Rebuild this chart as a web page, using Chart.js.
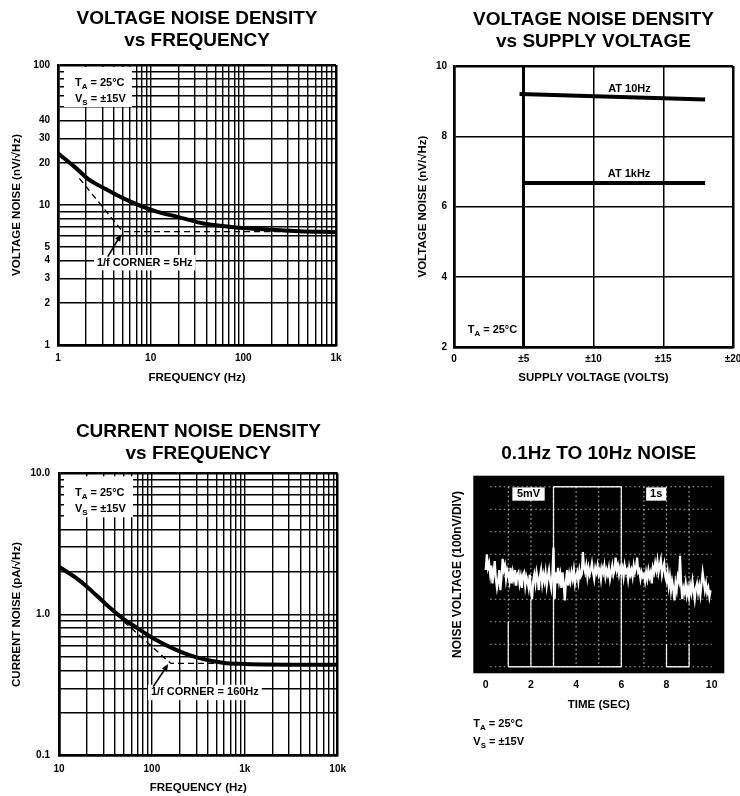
<!DOCTYPE html>
<html><head><meta charset="utf-8">
<script src="https://cdn.jsdelivr.net/npm/chart.js@4.4.0/dist/chart.umd.min.js"></script>
<style>
html,body{margin:0;padding:0;background:#fff;overflow:hidden;}
#wrap{position:relative;width:740px;height:796px;overflow:hidden;background:#fff;}
canvas{position:absolute;}
</style></head><body>
<div id="wrap">
<canvas id="c1" width="370" height="400" style="left:0;top:0"></canvas>
<canvas id="c2" width="380" height="400" style="left:370px;top:0"></canvas>
<canvas id="c3" width="370" height="396" style="left:0;top:400px"></canvas>
<canvas id="c4" width="370" height="396" style="left:370px;top:400px"></canvas>
</div>
<script>
const FONT = '"Liberation Sans", Arial, Helvetica, sans-serif';
Chart.defaults.font.family = FONT;
Chart.defaults.font.weight = 'bold';
Chart.defaults.color = '#000';
Chart.defaults.animation = false;

// ---------- Voltage noise density vs frequency ----------
const vnFreq  = [1, 1.5, 2.18, 3, 5, 11.4, 20, 36, 70, 164, 400, 1000];
const vnNoise = [23.4, 18.8, 15.1, 13.4, 11.2, 9.0, 8.2, 7.4, 7.0, 6.7, 6.5, 6.4];
const vnAsymFreq  = [1.7, 5, 1000];
const vnAsymNoise = [15.5, 6.45, 6.45];
const vnXLabelVals = [1, 10, 100, 1000];
const vnXLabels    = ['1', '10', '100', '1k'];
const vnYLabelVals = [1, 2, 3, 4, 5, 10, 20, 30, 40, 100];
const vnYLabels    = ['1', '2', '3', '4', '5', '10', '20', '30', '40', '100'];

// ---------- Voltage noise density vs supply voltage ----------
const supply10HzVolts = [4.7, 18];
const supply10HzNoise = [9.2, 9.05];
const supply1kHzVolts = [5, 18];
const supply1kHzNoise = [6.67, 6.67];
const supplyXTickVals = [0, 5, 10, 15, 20];
const supplyXTickLabels = ['0', '±5', '±10', '±15', '±20'];
const supplyYTickVals = [2, 4, 6, 8, 10];

// ---------- Current noise density vs frequency ----------
const inFreq  = [10, 15, 21, 30, 48.5, 70, 111, 253, 578, 1000, 10000];
const inNoise = [2.18, 1.83, 1.53, 1.23, 0.94, 0.80, 0.66, 0.516, 0.456, 0.447, 0.44];
const inAsymFreq  = [50, 160, 1000];
const inAsymNoise = [0.89, 0.45, 0.45];
const inXLabelVals = [10, 100, 1000, 10000];
const inXLabels    = ['10', '100', '1k', '10k'];
const inYLabelVals = [0.1, 1, 10];
const inYLabels    = ['0.1', '1.0', '10.0'];

// ---------- 0.1Hz to 10Hz noise (divisions, sampled every 0.05 s) ----------
const scopeStep = 0.05;
const scopeNoise = [
  0.3, 1.0, 0.4, 0.6, 0.1, 0.5, -0.3, 0.2, 0.7, -0.1, -0.5, -0.2, 0.3, -0.6, 0.0, 0.8, 0.3, 0.5, -0.1, 0.3,
  0.1, -0.2, 0.4, -0.3, 0.2, -0.1, 0.3, -0.4, 0.1, 0.2, -0.3, 0.0, -0.5, 0.1, 0.2, -0.4, 0.0, -0.2, -0.5, 0.1,
  -0.6, -1.0, -0.2, 0.1, -0.3, 0.2, -0.1, -0.6, 0.0, 0.3, -0.3, 0.1, -0.2, 0.2, -0.4, 0.0, 0.3, -0.2, -0.5, 0.1,
  1.3, -1.0, 0.2, -0.3, 0.4, -0.2, 0.1, -0.5, 0.2, -0.3, -1.05, -0.2, 0.3, -0.4, 0.1, -0.2, 0.2, -0.1, 0.3, -0.3,
  0.0, 0.2, -0.2, 0.3, 0.0, 0.1, 1.1, 0.4, 0.2, 0.5, 0.0, 0.4, 0.1, 0.3, 0.6, 0.2, -0.1, 0.4, 0.2, 0.5,
  0.1, 0.3, -0.1, 0.4, 0.2, 0.5, 0.0, 0.3, 0.1, 0.4, -0.1, 0.2, 0.5, 0.1, 0.3, 0.85, 0.3, 0.5, 0.1, 0.4,
  0.2, 0.4, 0.0, 0.5, 0.2, 0.3, -0.1, 0.4, 0.1, 0.3, 0.0, 0.5, 0.2, 0.4, 0.85, 0.2, 0.3, -0.1, 0.2, 0.0,
  0.1, -0.2, 0.2, -0.1, 0.3, 0.0, 0.2, -0.3, 0.4, 0.2, 0.6, 0.3, 0.7, 0.2, 0.5, 0.75, 0.1, 0.4, 0.6, 0.0,
  -0.2, 0.2, -0.4, 0.0, -0.6, -0.2, -0.5, -1.05, -0.3, -0.6, 0.0, -0.2, 0.93, -0.4, -1.0, -0.5, -0.7, -0.3, -0.8, -0.5,
  -0.9, -0.4, -0.7, -0.2, -0.6, -1.0, -0.5, -0.3, -0.7, -0.4, -0.8, -0.3, 0.2, -0.2, -0.6, -0.3, -0.7, -0.5, -0.9, -0.6
];
const scopeTickVals = [0, 2, 4, 6, 8, 10];
// scope screen graticule decoration (in seconds / divisions)
const scopeSolidSegments = [[3,4,3,-4],[6,4,6,-4],[3,4,6,4],[1,-4,6,-4],[1,-2,1,-4],[2,-1,2,-4],[8,-3,8,-4],[9,-3,9,-4],[8,-4,9,-4]];

// ---------- helpers ----------
function decadeGrid(lo, hi) {
  const out = [];
  for (let d = lo; d < hi * 0.999; d *= 10) {
    for (let k = 1; k < 10; k++) out.push(+(k * d).toPrecision(6));
  }
  out.push(hi);
  return out;
}
function labelFor(v, vals, labels) {
  for (let i = 0; i < vals.length; i++) if (Math.abs(v - vals[i]) <= Math.abs(vals[i]) * 1e-6 + 1e-9) return labels[i];
  return '';
}
function pts(xs, ys) { return xs.map((x, i) => ({x, y: ys[i]})); }
function near(a, b) { return Math.abs(a - b) <= Math.abs(b) * 1e-6 + 1e-9; }

function logAxis(pos, min, max, labelVals, labels, title, axisSize, tickPad) {
  const horiz = pos === 'bottom';
  const gridVals = decadeGrid(min, max);
  return {
    type: 'logarithmic', position: pos, min, max,
    afterBuildTicks: s => { s.ticks = gridVals.map(v => ({value: v})); },
    afterFit: s => { if (horiz) s.height = axisSize; else s.width = axisSize; },
    ticks: { autoSkip: false, maxRotation: 0, padding: tickPad, font: {size: 10, weight: 'bold'}, color: '#000',
      callback: v => labelFor(v, labelVals, labels) },
    grid: { color: '#000', drawTicks: false,
      lineWidth: c => (c.tick && (near(c.tick.value, min) || near(c.tick.value, max))) ? 2.5 : 1.4 },
    border: { display: true, color: '#000', width: 2.5 },
    title: { display: true, text: title, font: {size: 11.5, weight: 'bold'}, padding: 0, color: '#000' }
  };
}
function titleOpt(lines, padTop, padBottom) {
  return { display: true, fullSize: false, text: lines, color: '#000',
    font: {size: 19, weight: 'bold', lineHeight: '22px'}, padding: {top: padTop, bottom: padBottom} };
}
function drawSub(ctx, x, y, parts, size) {
  let cx = x;
  ctx.textAlign = 'left'; ctx.textBaseline = 'middle'; ctx.fillStyle = '#000';
  for (const [t, sub] of parts) {
    ctx.font = `bold ${sub ? size * 0.72 : size}px ${FONT}`;
    ctx.fillText(t, cx, sub ? y + size * 0.32 : y);
    cx += ctx.measureText(t).width;
  }
}
function arrow(ctx, x0, y0, x1, y1) {
  ctx.save();
  ctx.strokeStyle = '#000'; ctx.fillStyle = '#000'; ctx.lineWidth = 1.6;
  const a = Math.atan2(y1 - y0, x1 - x0), L = 7, W = 3;
  ctx.beginPath(); ctx.moveTo(x0, y0); ctx.lineTo(x1 - L * 0.6 * Math.cos(a), y1 - L * 0.6 * Math.sin(a)); ctx.stroke();
  ctx.beginPath(); ctx.moveTo(x1, y1);
  ctx.lineTo(x1 - L * Math.cos(a) + W * Math.sin(a), y1 - L * Math.sin(a) - W * Math.cos(a));
  ctx.lineTo(x1 - L * Math.cos(a) - W * Math.sin(a), y1 - L * Math.sin(a) + W * Math.cos(a));
  ctx.closePath(); ctx.fill();
  ctx.restore();
}
function boxedLabel(ctx, text, cx, cy, size) {
  ctx.save();
  ctx.font = `bold ${size}px ${FONT}`;
  const w = ctx.measureText(text).width;
  ctx.fillStyle = '#fff';
  ctx.fillRect(cx - w / 2 - 3, cy - size * 0.7, w + 6, size * 1.4);
  ctx.fillStyle = '#000'; ctx.textAlign = 'center'; ctx.textBaseline = 'middle';
  ctx.fillText(text, cx, cy);
  ctx.restore();
}
const curveStyle = { borderColor: '#000', borderWidth: 4, pointRadius: 0, cubicInterpolationMode: 'monotone', fill: false };
const dashStyle  = { borderColor: '#000', borderWidth: 1.3, borderDash: [6, 4], pointRadius: 0, tension: 0, fill: false };
const basePlugins = { legend: {display: false}, tooltip: {enabled: false} };

// ---------- Chart 1 ----------
new Chart(document.getElementById('c1'), {
  type: 'line',
  data: { datasets: [
    Object.assign({ data: pts(vnFreq, vnNoise) }, curveStyle),
    Object.assign({ data: pts(vnAsymFreq, vnAsymNoise) }, dashStyle)
  ]},
  options: {
    responsive: false, animation: false,
    layout: { padding: {left: 10, right: 34, top: 0, bottom: 15} },
    plugins: Object.assign({ title: titleOpt(['VOLTAGE NOISE DENSITY', 'vs FREQUENCY'], 7.7, 13.3) }, basePlugins),
    scales: {
      x: logAxis('bottom', 1, 1000, vnXLabelVals, vnXLabels, 'FREQUENCY (Hz)', 40, 7.3),
      y: logAxis('left', 1, 100, vnYLabelVals, vnYLabels, 'VOLTAGE NOISE (nV/√Hz)', 48, 8)
    }
  },
  plugins: [{
    id: 'ann1',
    beforeDatasetsDraw(chart) {
      const {ctx, chartArea: a} = chart;
      ctx.save();
      ctx.fillStyle = '#fff'; ctx.fillRect(a.left + 6, a.top + 2, 68, 40);
      drawSub(ctx, a.left + 17, a.top + 18, [['T', 0], ['A', 1], [' = 25°C', 0]], 11);
      drawSub(ctx, a.left + 17, a.top + 34, [['V', 0], ['S', 1], [' = ±15V', 0]], 11);
      ctx.restore();
    },
    afterDatasetsDraw(chart) {
      const {ctx, scales: {x, y}} = chart;
      const cx = x.getPixelForValue(vnAsymFreq[1]), cy = y.getPixelForValue(vnAsymNoise[1]);
      boxedLabel(ctx, '1/f CORNER = 5Hz', cx + 22, cy + 31, 11);
      arrow(ctx, cx - 15, cy + 25, cx - 1.5, cy + 2.5);
    }
  }]
});

// ---------- Chart 2 ----------
new Chart(document.getElementById('c2'), {
  type: 'line',
  data: { datasets: [
    { data: pts(supply10HzVolts, supply10HzNoise), borderColor: '#000', borderWidth: 4, pointRadius: 0, tension: 0 },
    { data: pts(supply1kHzVolts, supply1kHzNoise), borderColor: '#000', borderWidth: 4, pointRadius: 0, tension: 0 }
  ]},
  options: {
    responsive: false, animation: false,
    layout: { padding: {left: 46, right: 17, top: 0, bottom: 15} },
    plugins: Object.assign({ title: titleOpt(['VOLTAGE NOISE DENSITY', 'vs SUPPLY VOLTAGE'], 9, 13) }, basePlugins),
    scales: {
      x: { type: 'linear', position: 'bottom', min: 0, max: 20,
        afterBuildTicks: s => { s.ticks = supplyXTickVals.map(v => ({value: v})); },
        afterFit: s => { s.height = 37.9; },
        ticks: { autoSkip: false, maxRotation: 0, padding: 6.3, font: {size: 10, weight: 'bold'}, color: '#000',
          callback: v => labelFor(v, supplyXTickVals, supplyXTickLabels) },
        grid: { color: '#000', drawTicks: false,
          lineWidth: c => c.tick ? (c.tick.value === 5 ? 3 : (c.tick.value === 0 || c.tick.value === 20 ? 2.5 : 1.5)) : 1.5 },
        border: { display: true, color: '#000', width: 2.5 },
        title: { display: true, text: 'SUPPLY VOLTAGE (VOLTS)', font: {size: 11.5, weight: 'bold'}, padding: 0, color: '#000' }
      },
      y: { type: 'linear', position: 'left', min: 2, max: 10,
        afterBuildTicks: s => { s.ticks = supplyYTickVals.map(v => ({value: v})); },
        afterFit: s => { s.width = 38; },
        ticks: { padding: 7, font: {size: 10, weight: 'bold'}, color: '#000' },
        grid: { color: '#000', drawTicks: false,
          lineWidth: c => c.tick && (c.tick.value === 10 || c.tick.value === 2) ? 2.5 : 1.5 },
        border: { display: true, color: '#000', width: 2.5 },
        title: { display: true, text: 'VOLTAGE NOISE (nV/√Hz)', font: {size: 11.5, weight: 'bold'}, padding: 0, color: '#000' }
      }
    }
  },
  plugins: [{
    id: 'ann2',
    afterDatasetsDraw(chart) {
      const {ctx, scales: {x, y}} = chart;
      ctx.save();
      ctx.font = `bold 11px ${FONT}`; ctx.fillStyle = '#000'; ctx.textAlign = 'center'; ctx.textBaseline = 'middle';
      ctx.fillText('AT 10Hz', x.getPixelForValue(12.58), y.getPixelForValue(9.36));
      ctx.fillText('AT 1kHz', x.getPixelForValue(12.55), y.getPixelForValue(6.94));
      drawSub(ctx, x.getPixelForValue(0.98), y.getPixelForValue(2.48), [['T', 0], ['A', 1], [' = 25°C', 0]], 11);
      ctx.restore();
    }
  }]
});

// ---------- Chart 3 ----------
new Chart(document.getElementById('c3'), {
  type: 'line',
  data: { datasets: [
    Object.assign({ data: pts(inFreq, inNoise) }, curveStyle),
    Object.assign({ data: pts(inAsymFreq, inAsymNoise) }, dashStyle)
  ]},
  options: {
    responsive: false, animation: false,
    layout: { padding: {left: 10.4, right: 32.3, top: 0, bottom: 0.8} },
    plugins: Object.assign({ title: titleOpt(['CURRENT NOISE DENSITY', 'vs FREQUENCY'], 20.7, 8.6) }, basePlugins),
    scales: {
      x: logAxis('bottom', 10, 10000, inXLabelVals, inXLabels, 'FREQUENCY (Hz)', 39.5, 7.6),
      y: logAxis('left', 0.1, 10, inYLabelVals, inYLabels, 'CURRENT NOISE (pA/√Hz)', 48.6, 9)
    }
  },
  plugins: [{
    id: 'ann3',
    beforeDatasetsDraw(chart) {
      const {ctx, chartArea: a} = chart;
      ctx.save();
      ctx.fillStyle = '#fff'; ctx.fillRect(a.left + 5, a.top + 3, 69, 41);
      drawSub(ctx, a.left + 16, a.top + 19.7, [['T', 0], ['A', 1], [' = 25°C', 0]], 11);
      drawSub(ctx, a.left + 16, a.top + 35.7, [['V', 0], ['S', 1], [' = ±15V', 0]], 11);
      ctx.restore();
    },
    afterDatasetsDraw(chart) {
      const {ctx, scales: {x, y}} = chart;
      const cx = x.getPixelForValue(inAsymFreq[1]), cy = y.getPixelForValue(inAsymNoise[1]);
      boxedLabel(ctx, '1/f CORNER = 160Hz', cx + 34, cy + 29, 11);
      arrow(ctx, cx - 17.6, cy + 23.2, cx - 2.6, cy + 0.5);
    }
  }]
});

// ---------- Chart 4 ----------
new Chart(document.getElementById('c4'), {
  type: 'line',
  data: { datasets: [
    { data: scopeNoise.map((v, i) => ({x: i * scopeStep, y: v})), borderColor: '#fff', borderWidth: 2.2,
      pointRadius: 0, tension: 0, fill: false }
  ]},
  options: {
    responsive: false, animation: false,
    layout: { padding: {left: 80.1, right: 15.7, top: 0, bottom: 84.1} },
    plugins: Object.assign({ title: titleOpt('0.1Hz TO 10Hz NOISE', 43, 10.7) }, basePlugins),
    scales: {
      x: { type: 'linear', position: 'bottom', min: -0.549, max: 10.558,
        afterBuildTicks: s => { s.ticks = scopeTickVals.map(v => ({value: v})); },
        afterFit: s => { s.height = 38.6; },
        ticks: { autoSkip: false, maxRotation: 0, padding: 5.7, font: {size: 10.5, weight: 'bold'}, color: '#000' },
        grid: { display: false, drawTicks: false }, border: { display: false },
        title: { display: true, text: 'TIME (SEC)', font: {size: 11.5, weight: 'bold'}, padding: 0, color: '#000' }
      },
      y: { type: 'linear', position: 'left', min: -4.29, max: 4.49,
        afterFit: s => { s.width = 23.2; },
        ticks: { display: false }, grid: { display: false, drawTicks: false }, border: { display: false },
        title: { display: true, text: 'NOISE VOLTAGE (100nV/DIV)', font: {size: 12, weight: 'bold'}, padding: 0, color: '#000' }
      }
    }
  },
  plugins: [{
    id: 'scope',
    beforeDatasetsDraw(chart) {
      const {ctx, chartArea: a, scales: {x, y}} = chart;
      const sx = v => x.getPixelForValue(v), sy = v => y.getPixelForValue(v);
      ctx.save();
      ctx.fillStyle = '#000'; ctx.fillRect(a.left, a.top, a.width, a.height);
      ctx.beginPath(); ctx.rect(a.left, a.top, a.width, a.height); ctx.clip();
      ctx.strokeStyle = 'rgba(255,255,255,0.7)'; ctx.lineWidth = 1.2; ctx.setLineDash([1.5, 3]);
      for (let t = 1; t <= 9; t++) { ctx.beginPath(); ctx.moveTo(sx(t), sy(4)); ctx.lineTo(sx(t), sy(-4)); ctx.stroke(); }
      for (let v = -4; v <= 4; v++) { ctx.beginPath(); ctx.moveTo(sx(0.2), sy(v)); ctx.lineTo(sx(10), sy(v)); ctx.stroke(); }
      ctx.setLineDash([]); ctx.strokeStyle = 'rgba(255,255,255,0.9)'; ctx.lineWidth = 1.3;
      for (const [t0, v0, t1, v1] of scopeSolidSegments) {
        ctx.beginPath(); ctx.moveTo(sx(t0), sy(v0)); ctx.lineTo(sx(t1), sy(v1)); ctx.stroke();
      }
      ctx.restore();
    },
    afterDatasetsDraw(chart) {
      const {ctx, chartArea: a, scales: {x, y}} = chart;
      const sx = v => x.getPixelForValue(v), sy = v => y.getPixelForValue(v);
      ctx.save();
      ctx.fillStyle = '#fff';
      ctx.fillRect(sx(1.18), sy(3.97), sx(2.61) - sx(1.18), sy(3.38) - sy(3.97));
      ctx.fillRect(sx(7.1), sy(3.97), sx(7.99) - sx(7.1), sy(3.38) - sy(3.97));
      ctx.fillStyle = '#000'; ctx.font = `bold 11px ${FONT}`; ctx.textAlign = 'center'; ctx.textBaseline = 'middle';
      ctx.fillText('5mV', (sx(1.18) + sx(2.61)) / 2, sy(3.675));
      ctx.fillText('1s', (sx(7.1) + sx(7.99)) / 2, sy(3.675));
      drawSub(ctx, a.left, a.bottom + 50.7, [['T', 0], ['A', 1], [' = 25°C', 0]], 11);
      drawSub(ctx, a.left, a.bottom + 68.7, [['V', 0], ['S', 1], [' = ±15V', 0]], 11);
      ctx.restore();
    }
  }]
});
</script>
</body></html>
